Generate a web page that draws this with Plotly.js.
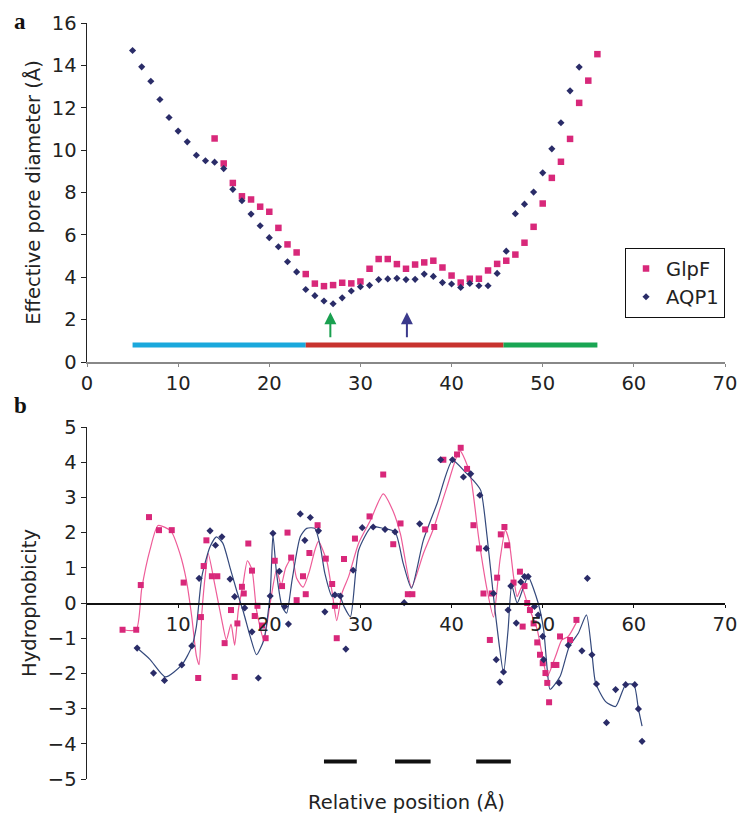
<!DOCTYPE html>
<html><head><meta charset="utf-8">
<script src="https://cdn.plot.ly/plotly-3.0.1.min.js"></script>
<style>html,body{margin:0;padding:0;background:#fff}#chart{width:743px;height:825px}</style>
</head><body><div id="chart"></div>
<script>
// ---------- Panel a: effective pore diameter ----------
const aqpA_x = [5,6,7,8,9,10,11,12,13,14,15,16,17,18,19,20,21,22,23,24,25,26,27,28,29,30,31,32,33,34,35,36,37,38,39,40,41,42,43,44,45,46,47,48,49,50,51,52,53,54];
const aqpA_y = [14.7,13.93,13.25,12.39,11.54,10.9,10.39,9.76,9.5,9.43,9.13,8.15,7.61,6.98,6.43,5.87,5.44,4.73,4.25,3.42,3.13,2.88,2.75,3.03,3.35,3.55,3.62,3.89,3.92,3.95,3.89,3.9,4.15,4.04,3.75,3.68,3.52,3.71,3.6,3.6,4.18,5.23,7.0,7.45,8.02,8.93,10.06,11.29,12.8,13.92];
const glpA_x = [14,15,16,17,18,19,20,21,22,23,24,25,26,27,28,29,30,31,32,33,34,35,36,37,38,39,40,41,42,43,44,45,46,47,48,49,50,51,52,53,54,55,56];
const glpA_y = [10.55,9.37,8.45,7.82,7.67,7.33,7.09,6.33,5.55,5.17,4.15,3.7,3.58,3.63,3.74,3.71,3.8,4.4,4.86,4.86,4.62,4.4,4.6,4.7,4.78,4.46,4.08,3.75,3.93,3.93,4.32,4.63,4.78,5.07,5.63,6.38,7.48,8.69,9.45,10.53,12.23,13.28,14.53];
const regionStart = [5, 24, 45.7];
const regionEnd = [24, 45.7, 56];
const regionLevel = 0.8;
const arrowX = [26.7, 35.1];
const arrowTail = 1.1, arrowHead = 2.35;

// ---------- Panel b: hydrophobicity ----------
const glpB_x = [3.9,5.4,5.9,6.8,7.9,9.3,10.6,12.2,12.5,12.8,13.1,13.7,14.3,15.1,15.8,16.2,16.5,17.0,17.2,17.7,18.1,18.4,18.7,19.2,19.6,20.6,21.4,22.0,22.4,23.0,23.7,24.0,24.4,25.3,26.2,26.9,27.2,27.4,28.2,29.4,31.0,32.5,33.6,34.4,35.2,35.7,37.1,38.1,39.1,40.6,41.0,41.7,42.4,43.0,43.5,44.2,44.4,45.0,45.4,45.8,46.1,46.8,47.5,47.8,48.0,48.3,48.6,49.0,49.4,49.7,50.0,50.3,50.5,50.7,51.2,51.5,51.9,53.0,53.7];
const glpB_y = [-0.76,-0.76,0.51,2.44,2.07,2.07,0.58,-2.13,-0.4,1.05,1.78,0.76,0.76,-1.14,-0.2,-2.1,-0.58,0.46,0.27,1.69,0.92,-0.37,-0.08,-0.64,-1.0,1.2,0.48,2.0,1.29,0.08,0.76,0.25,1.42,2.21,1.26,0.54,-0.08,-1.0,1.25,1.83,2.46,3.65,1.67,2.26,0.25,0.25,2.09,2.16,4.07,4.22,4.41,3.81,2.21,1.55,0.27,-1.05,0.27,0.72,1.95,2.16,1.64,0.58,0.89,-0.67,0.48,0.0,-0.2,-0.58,-1.12,-1.47,-1.71,-1.99,-2.27,-2.82,-1.76,-1.76,-0.95,-1.05,-0.48];
const glpLine_x = [3.9,5.4,6.0,6.9,7.8,9.2,10.2,10.9,11.5,12.0,12.3,12.6,13.0,13.3,14.0,14.8,15.3,15.8,16.2,16.6,17.1,17.6,18.1,18.6,19.4,20.1,20.8,21.3,21.8,22.5,23.0,23.7,24.4,25.0,25.4,26.3,26.9,27.4,28.0,28.7,29.8,31.1,32.5,33.6,34.4,35.6,36.9,38.0,39.5,40.9,42.0,43.0,43.9,44.6,45.3,45.9,46.3,46.8,47.2,47.7,48.3,49.4,50.1,50.5,51.4,52.1,52.8,53.7];
const glpLine_y = [-0.76,-0.76,0.4,1.5,2.2,2.05,1.4,0.65,-0.4,-1.5,-1.75,-0.3,0.85,1.4,0.55,-0.5,-1.05,-0.6,-1.2,-0.2,0.5,1.2,0.95,-0.2,-1.05,0.0,0.95,0.5,1.0,1.3,0.7,0.45,0.9,1.5,1.75,1.2,0.3,-0.5,0.3,0.75,1.7,2.35,3.1,2.6,1.95,0.45,1.4,2.1,3.3,4.33,3.7,1.8,0.37,-0.4,1.2,2.07,1.78,0.75,0.18,0.46,0.0,-0.76,-1.71,-2.09,-1.52,-1.05,-0.95,-0.55];
const aqpB_x = [5.5,7.3,8.5,10.4,11.5,12.3,13.5,14.1,14.8,15.7,16.2,17.3,18.1,18.8,20.1,20.4,21.1,21.7,22.1,23.4,23.9,24.5,25.4,26.1,27.2,27.8,28.4,29.2,30.2,31.4,32.7,33.8,34.8,36.5,38.8,40.1,41.3,42.1,43.1,43.8,44.6,44.9,45.3,45.7,46.2,46.5,47.1,47.6,48.0,48.4,49.1,49.5,50.0,50.1,51.8,52.8,54.3,54.9,55.4,55.9,57.0,58.0,59.1,60.1,60.5,60.9];
const aqpB_y = [-1.28,-1.99,-2.2,-1.76,-1.22,0.7,2.05,1.64,1.88,0.68,0.18,-0.14,-0.82,-2.13,0.2,1.98,0.9,-0.1,-0.6,2.53,1.78,2.43,2.05,-0.25,0.23,0.2,-1.31,0.93,2.14,2.16,2.09,2.02,0.01,2.25,4.07,4.07,3.58,3.67,3.06,1.55,0.27,-1.61,-2.25,-1.96,-0.2,0.48,-0.57,0.6,0.75,0.75,-0.1,-0.34,-0.95,-1.61,-2.27,-1.2,-1.36,0.7,-1.47,-2.3,-3.4,-2.46,-2.32,-2.32,-3.01,-3.93];
const aqpLine_x = [5.5,6.9,8.6,10.4,11.5,12.0,12.6,13.5,14.2,14.9,15.7,16.4,17.2,17.9,18.6,19.4,20.1,20.4,20.8,21.4,21.9,22.5,23.4,24.1,25.0,25.6,26.1,26.9,27.6,28.2,28.9,29.8,31.2,32.5,33.8,34.7,35.6,36.9,38.4,40.1,41.5,42.4,43.2,43.9,44.6,45.2,45.7,46.2,46.6,47.2,47.9,48.4,49.5,50.1,50.5,50.8,51.9,52.9,53.9,54.8,55.4,55.8,56.9,58.0,59.1,60.0,60.5,60.9];
const aqpLine_y = [-1.28,-1.6,-2.1,-1.76,-1.24,-0.67,0.75,1.6,1.88,1.7,1.0,0.37,-0.29,-0.95,-1.47,-1.05,0.27,1.93,0.84,-0.1,-0.29,0.65,1.88,2.12,2.12,1.6,0.84,0.18,0.27,-0.1,-0.39,1.5,2.16,2.12,2.02,1.12,0.42,1.78,2.82,4.05,3.72,3.48,3.2,1.88,0.18,-1.14,-1.99,-0.76,0.5,0.0,0.46,0.75,0.0,-0.76,-1.9,-2.45,-2.09,-1.24,-0.86,-0.34,-1.43,-2.27,-2.8,-2.94,-2.32,-2.32,-3.01,-3.5];
const barStart = [26.0, 33.8, 42.7];
const barEnd = [29.6, 37.7, 46.5];
const barLevel = -4.5;

const PINK = '#d8287a', NAVY = '#2a2c68', PINKLINE = '#ee5c98', NAVYLINE = '#34497c';
const regionColors = ['#1aa8dc', '#c8332e', '#19a653'];
const FONT = 'DejaVu Sans, sans-serif';

const traces = [];
for (let i = 0; i < regionStart.length; i++) {
  traces.push({x:[regionStart[i], regionEnd[i]], y:[regionLevel, regionLevel], mode:'lines',
    line:{color:regionColors[i], width:5}, xaxis:'x', yaxis:'y', showlegend:false, hoverinfo:'skip'});
}
traces.push({x:glpA_x, y:glpA_y, mode:'markers', name:'GlpF', marker:{symbol:'square', size:6.5, color:PINK}, xaxis:'x', yaxis:'y'});
traces.push({x:aqpA_x, y:aqpA_y, mode:'markers', name:'AQP1', marker:{symbol:'diamond', size:5.5, color:NAVY}, xaxis:'x', yaxis:'y'});

for (let i = 0; i < barStart.length; i++) {
  traces.push({x:[barStart[i], barEnd[i]], y:[barLevel, barLevel], mode:'lines',
    line:{color:'#111', width:4}, xaxis:'x2', yaxis:'y2', showlegend:false, hoverinfo:'skip'});
}
traces.push({x:glpLine_x, y:glpLine_y, mode:'lines', line:{color:PINKLINE, width:1.2, shape:'spline', smoothing:0.6}, xaxis:'x2', yaxis:'y2', showlegend:false});
traces.push({x:aqpLine_x, y:aqpLine_y, mode:'lines', line:{color:NAVYLINE, width:1.2, shape:'spline', smoothing:0.6}, xaxis:'x2', yaxis:'y2', showlegend:false});
traces.push({x:glpB_x, y:glpB_y, mode:'markers', marker:{symbol:'square', size:6, color:PINK}, xaxis:'x2', yaxis:'y2', showlegend:false});
traces.push({x:aqpB_x, y:aqpB_y, mode:'markers', marker:{symbol:'diamond', size:5.5, color:NAVY}, xaxis:'x2', yaxis:'y2', showlegend:false});

const H = 825;
const tickFont = {family:FONT, size:19.5, color:'#222'};
const titleFont = {family:FONT, size:19.5, color:'#222'};
const layout = {
  width:743, height:825,
  margin:{l:87, r:18, t:0, b:0},
  paper_bgcolor:'#fff', plot_bgcolor:'rgba(0,0,0,0)',
  font:{family:FONT, color:'#222'},
  showlegend:true,
  legend:{x:0.843, y:1-248/H, xanchor:'left', yanchor:'top', bordercolor:'#111', borderwidth:1.2,
    bgcolor:'#fff', font:{family:FONT, size:19.5, color:'#222'}, tracegroupgap:0, itemwidth:30},
  xaxis:{domain:[0,1], range:[0,70], anchor:'y', tickvals:[0,10,20,30,40,50,60,70], showgrid:false, zeroline:false,
    showline:true, linecolor:'#888', linewidth:1.5, ticks:'outside', ticklen:3, tickcolor:'#888', tickfont:tickFont},
  yaxis:{domain:[1-362/H, 1-23/H], range:[0,16], dtick:2, showgrid:false, zeroline:false, showline:true,
    linecolor:'#222', linewidth:1.5, ticks:'outside', ticklen:5, tickcolor:'#222', tickfont:tickFont,
    title:{text:'Effective pore diameter (Å)', font:titleFont, standoff:6}},
  xaxis2:{domain:[0,1], range:[0,70], anchor:'free', position:1-603/H, tickvals:[10,20,30,40,50,60,70], showgrid:false,
    zeroline:false, showline:true, linecolor:'#111', linewidth:1.5, ticks:'outside', ticklen:3, tickcolor:'#111', tickfont:tickFont},
  yaxis2:{domain:[1-779/H, 1-427/H], range:[-5,5], dtick:1, showgrid:false, zeroline:false, showline:true,
    linecolor:'#222', linewidth:1.5, ticks:'outside', ticklen:5, tickcolor:'#222', tickfont:tickFont,
    title:{text:'Hydrophobicity', font:titleFont, standoff:6}},
  annotations:[
    {xref:'paper', yref:'paper', x:-0.105, y:1-22/H, text:'<b>a</b>', showarrow:false, font:{family:'Liberation Serif, serif', size:23, color:'#111'}, xanchor:'center', yanchor:'middle'},
    {xref:'paper', yref:'paper', x:-0.105, y:1-405/H, text:'<b>b</b>', showarrow:false, font:{family:'Liberation Serif, serif', size:23, color:'#111'}, xanchor:'center', yanchor:'middle'},
    {xref:'paper', yref:'paper', x:0.5, y:1-802/H, text:'Relative position (Å)', showarrow:false, font:titleFont, xanchor:'center', yanchor:'middle'},
    {xref:'x', yref:'y', axref:'x', ayref:'y', x:arrowX[0], y:arrowHead, ax:arrowX[0], ay:arrowTail, text:'', showarrow:true, arrowhead:2, arrowsize:1.2, arrowwidth:2, arrowcolor:'#1aa050'},
    {xref:'x', yref:'y', axref:'x', ayref:'y', x:arrowX[1], y:arrowHead, ax:arrowX[1], ay:arrowTail, text:'', showarrow:true, arrowhead:2, arrowsize:1.2, arrowwidth:2, arrowcolor:'#3b3a8c'}
  ]
};
Plotly.newPlot('chart', traces, layout, {displayModeBar:false, staticPlot:true});
</script></body></html>
